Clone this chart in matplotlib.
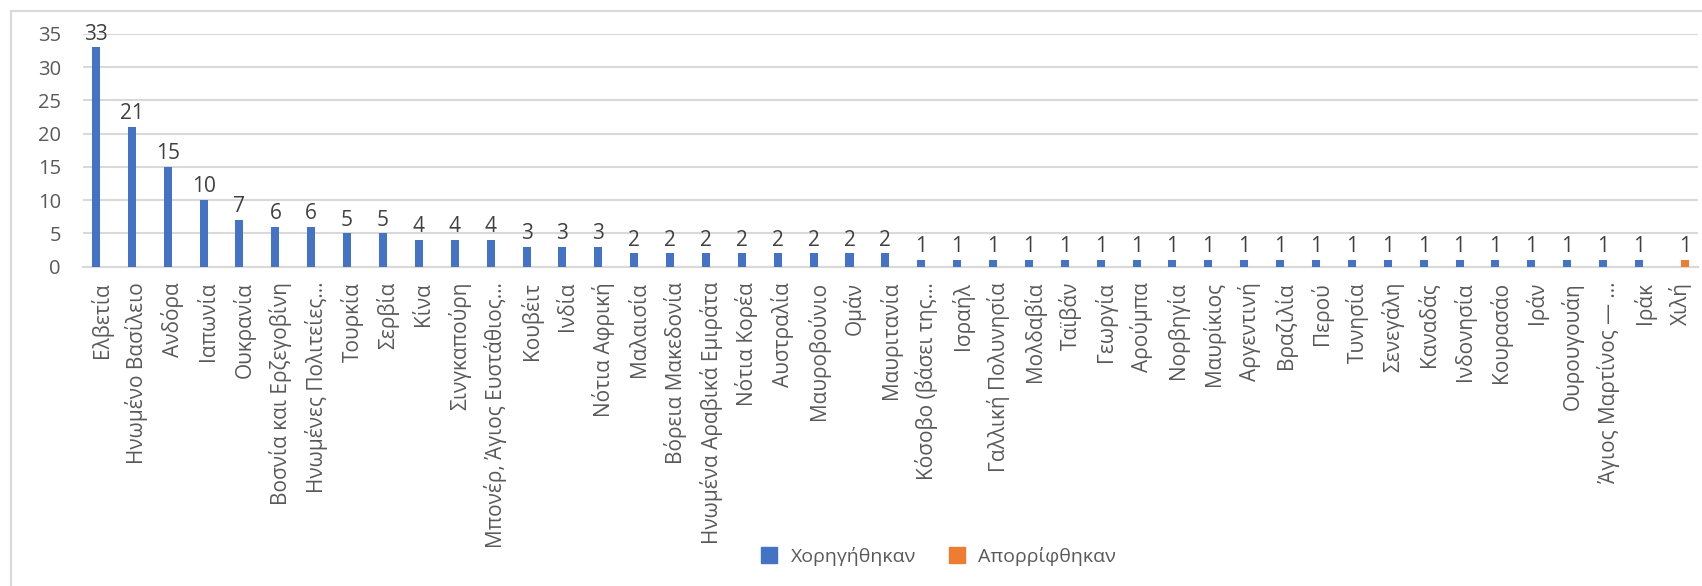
import numpy as np
import matplotlib
matplotlib.use('Agg')
import matplotlib.pyplot as plt
from matplotlib.lines import Line2D

plt.rcParams['font.family'] = ['Open Sans', 'DejaVu Sans']

countries = [
    'Ελβετία', 'Ηνωμένο Βασίλειο', 'Ανδόρα', 'Ιαπωνία', 'Ουκρανία',
    'Βοσνία και Ερζεγοβίνη', 'Ηνωμένες Πολιτείες…', 'Τουρκία', 'Σερβία', 'Κίνα',
    'Σινγκαπούρη', 'Μπονέρ, Άγιος Ευστάθιος…', 'Κουβέιτ', 'Ινδία', 'Νότια Αφρική',
    'Μαλαισία', 'Βόρεια Μακεδονία', 'Ηνωμένα Αραβικά Εμιράτα', 'Νότια Κορέα', 'Αυστραλία',
    'Μαυροβούνιο', 'Ομάν', 'Μαυριτανία', 'Κόσοβο (βάσει της…', 'Ισραήλ',
    'Γαλλική Πολυνησία', 'Μολδαβία', 'Ταϊβάν', 'Γεωργία', 'Αρούμπα',
    'Νορβηγία', 'Μαυρίκιος', 'Αργεντινή', 'Βραζιλία', 'Περού',
    'Τυνησία', 'Σενεγάλη', 'Καναδάς', 'Ινδονησία', 'Κουρασάο',
    'Ιράν', 'Ουρουγουάη', 'Άγιος Μαρτίνος — …', 'Ιράκ', 'Χιλή',
]
granted = [33, 21, 15, 10, 7, 6, 6, 5, 5, 4, 4, 4, 3, 3, 3,
           2, 2, 2, 2, 2, 2, 2, 2,
           1, 1, 1, 1, 1, 1, 1, 1, 1, 1, 1, 1, 1, 1, 1, 1, 1, 1, 1, 1, 1, np.nan]
rejected = [np.nan] * 44 + [1]

BLUE = '#4472C4'
ORANGE = '#ED7D31'
TXT = '#595959'
GRID = '#D9D9D9'

fig = plt.figure(figsize=(17.02, 5.86), dpi=100)
ax = fig.add_axes([0.0488, 0.5449, 0.9488, 0.3971])

x = np.arange(len(countries))
w = 0.224
off = 0.142
b1 = ax.bar(x - off, granted, w, color=BLUE, zorder=3)
b2 = ax.bar(x + off, rejected, w, color=ORANGE, zorder=3)

# value labels above the bars (skip empty cells)
for bars, vals in ((b1, granted), (b2, rejected)):
    for rect, v in zip(bars, vals):
        if np.isnan(v):
            continue
        ax.annotate(f'{int(v)}', (rect.get_x() + rect.get_width() / 2, v),
                    xytext=(0, 2), textcoords='offset points',
                    ha='center', va='bottom', fontsize=15, color='#404040')

ax.set_xlim(-0.5, len(countries) - 0.5)
ax.set_ylim(0, 35)
ax.set_yticks(range(0, 36, 5))
ax.yaxis.grid(True, color=GRID, linewidth=1.5, zorder=0)
ax.set_axisbelow(True)
for s in ('top', 'right', 'left'):
    ax.spines[s].set_visible(False)
ax.spines['bottom'].set_color(GRID)
ax.spines['bottom'].set_linewidth(1.5)
ax.tick_params(axis='both', length=0, colors=TXT)
ax.tick_params(axis='y', pad=16, labelsize=14.5)
ax.tick_params(axis='x', pad=11, labelsize=15)
ax.set_xticks(x)
ax.set_xticklabels(countries, rotation=90, ha='center', va='top')

handles = [Line2D([], [], marker='s', linestyle='none', markersize=11,
                  markerfacecolor=c, markeredgecolor=c) for c in (BLUE, ORANGE)]
fig.legend(handles, ['Χορηγήθηκαν', 'Απορρίφθηκαν'], loc='center',
           bbox_to_anchor=(0.548, 0.05), ncol=2, frameon=False, fontsize=14,
           labelcolor=TXT, handletextpad=0.1, columnspacing=1.1)

# chart frame (only top and left edges visible in the crop)
fig.add_artist(Line2D([11 / 1702, 11 / 1702], [0, 1 - 11 / 586],
                      transform=fig.transFigure, color=GRID, linewidth=1.5))
fig.add_artist(Line2D([11 / 1702, 1], [1 - 11 / 586, 1 - 11 / 586],
                      transform=fig.transFigure, color=GRID, linewidth=1.5))

fig.savefig('out.png', dpi=100)
